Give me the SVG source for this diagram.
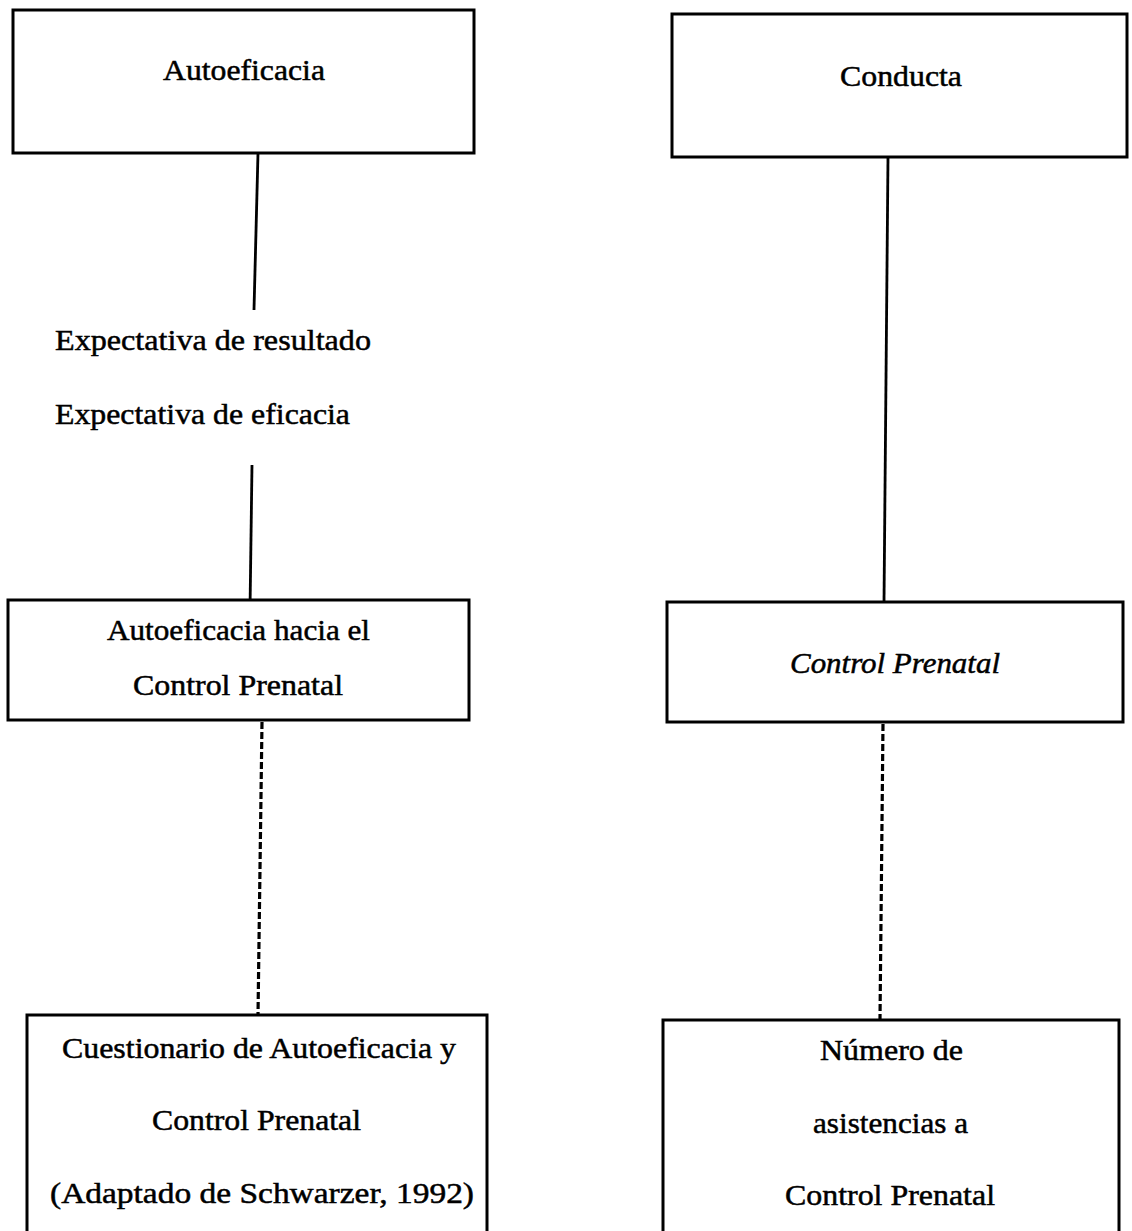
<svg xmlns="http://www.w3.org/2000/svg" width="1132" height="1231" viewBox="0 0 1132 1231">
<style>
.box{fill:#fff;stroke:#000;stroke-width:3}
.t{font-family:"Liberation Serif","Times New Roman",serif;font-size:30px;fill:#000;stroke:#000;stroke-width:0.5}
.i{font-style:italic}
.c{stroke:#000;stroke-width:2.8;fill:none}
.d{stroke:#000;stroke-width:3.2;fill:none;stroke-dasharray:7 3}
</style>
<rect width="1132" height="1231" fill="#fff"/>
<g id="connectors">
<line class="c" x1="258" y1="153" x2="254" y2="310"/>
<line class="c" x1="252" y1="465" x2="250" y2="610"/>
<line class="c" x1="888" y1="157" x2="884" y2="602"/>
<line class="d" x1="262" y1="722" x2="258" y2="1015"/>
<line class="d" x1="883" y1="724" x2="880" y2="1019"/>
</g>
<g id="autoeficacia">
<rect class="box" x="13" y="10" width="461" height="143"/>
<text class="t" x="163" y="80" textLength="162" lengthAdjust="spacingAndGlyphs">Autoeficacia</text>
</g>
<g id="conducta">
<rect class="box" x="672" y="14" width="455" height="143"/>
<text class="t" x="840" y="86" textLength="122" lengthAdjust="spacingAndGlyphs">Conducta</text>
</g>
<g id="expectativas">
<text class="t" x="55" y="350" textLength="316" lengthAdjust="spacingAndGlyphs">Expectativa de resultado</text>
<text class="t" x="55" y="424" textLength="295" lengthAdjust="spacingAndGlyphs">Expectativa de eficacia</text>
</g>
<g id="autoeficacia-cp">
<rect class="box" x="8" y="600" width="461" height="120"/>
<text class="t" x="107" y="640" textLength="263" lengthAdjust="spacingAndGlyphs">Autoeficacia hacia el</text>
<text class="t" x="133" y="695" textLength="210" lengthAdjust="spacingAndGlyphs">Control Prenatal</text>
</g>
<g id="control-prenatal">
<rect class="box" x="667" y="602" width="456" height="120"/>
<text class="t i" x="790" y="673" textLength="210" lengthAdjust="spacingAndGlyphs">Control Prenatal</text>
</g>
<g id="cuestionario">
<rect class="box" x="27" y="1015" width="460" height="240"/>
<text class="t" x="62" y="1058" textLength="394" lengthAdjust="spacingAndGlyphs">Cuestionario de Autoeficacia y</text>
<text class="t" x="152" y="1130" textLength="209" lengthAdjust="spacingAndGlyphs">Control Prenatal</text>
<text class="t" x="50" y="1203" textLength="424" lengthAdjust="spacingAndGlyphs">(Adaptado de Schwarzer, 1992)</text>
</g>
<g id="numero">
<rect class="box" x="663" y="1020" width="456" height="240"/>
<text class="t" x="820" y="1060" textLength="143" lengthAdjust="spacingAndGlyphs">Número de</text>
<text class="t" x="813" y="1133" textLength="155" lengthAdjust="spacingAndGlyphs">asistencias a</text>
<text class="t" x="785" y="1205" textLength="210" lengthAdjust="spacingAndGlyphs">Control Prenatal</text>
</g>
</svg>
